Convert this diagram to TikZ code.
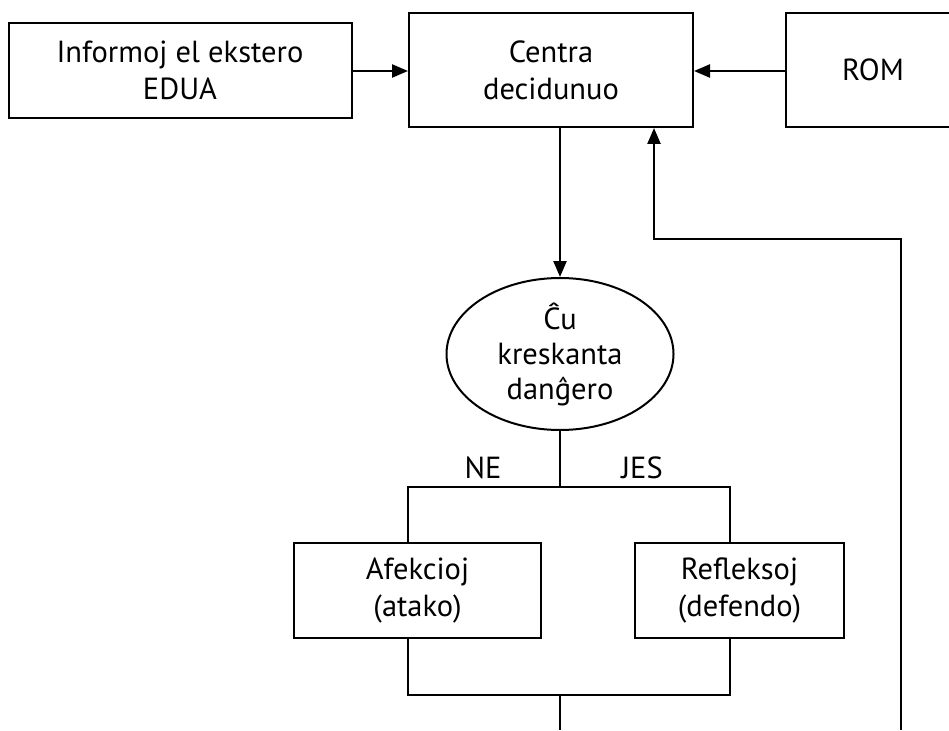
\documentclass[tikz,border=0pt]{standalone}
\usepackage{fontspec}
\setmainfont{PT Sans}
\usetikzlibrary{arrows.meta,shapes.geometric}
\begin{document}
\begin{tikzpicture}[x=1pt,y=-1pt,
  box/.style={draw,line width=2pt,align=center,inner sep=0pt,font=\fontsize{30.5}{37}\selectfont},
  lbl/.style={font=\fontsize{30.5}{37}\selectfont,inner sep=0pt},
  ln/.style={line width=2pt},
  arr/.style={line width=2.4pt,-{Triangle[length=16pt,width=13pt]}}]
\useasboundingbox (0,0) rectangle (949,730);
\clip (0,0) rectangle (949,730);
\fill[white] (0,0) rectangle (949,730);
\node[box,minimum width=343pt,minimum height=95pt] (info) at (180,70.5) {Informoj el ekstero\\EDUA};
\node[box,minimum width=284pt,minimum height=114pt] (centra) at (551,70) {Centra\\decidunuo};
\node[box,minimum width=174pt,minimum height=114pt] (rom) at (873,70) {ROM};
\node[draw,ellipse,line width=2pt,minimum width=227pt,minimum height=152pt,align=center,inner sep=0pt,font=\fontsize{30.5}{35}\selectfont] (q) at (560,354) {Ĉu\\kreskanta\\danĝero};
\node[box,minimum width=247pt,minimum height=95pt] (afek) at (417.5,590.5) {Afekcioj\\(atako)};
\node[box,minimum width=209pt,minimum height=95pt] (refl) at (739.5,590.5) {Refleksoj\\(defendo)};
\node[lbl] (ne) at (483,468) {NE};
\node[lbl] (jes) at (642,468) {JES};
\coordinate (split) at (560,487);
\coordinate (join) at (560,695);
\coordinate (bottom) at (560,730);
\coordinate (fbtop) at (654,239);
\coordinate (fbright) at (901,239);
\coordinate (fbend) at (901,730);
\draw[arr] (info.east |- 0,71) -- (centra.west |- 0,71);
\draw[arr] (rom.west |- 0,71) -- (centra.east |- 0,71);
\draw[arr] (centra.south -| 560,0) -- (q.north);
\draw[ln] (q.south) -- (split);
\draw[ln] (afek.north -| 408,0) |- (split) -| (refl.north -| 730,0);
\draw[ln] (afek.south -| 408,0) |- (join) -| (refl.south -| 730,0);
\draw[ln] (join) -- (bottom);
\draw[arr] (fbend) -- (fbright) -- (fbtop) -- (centra.south -| fbtop);
\end{tikzpicture}
\end{document}
